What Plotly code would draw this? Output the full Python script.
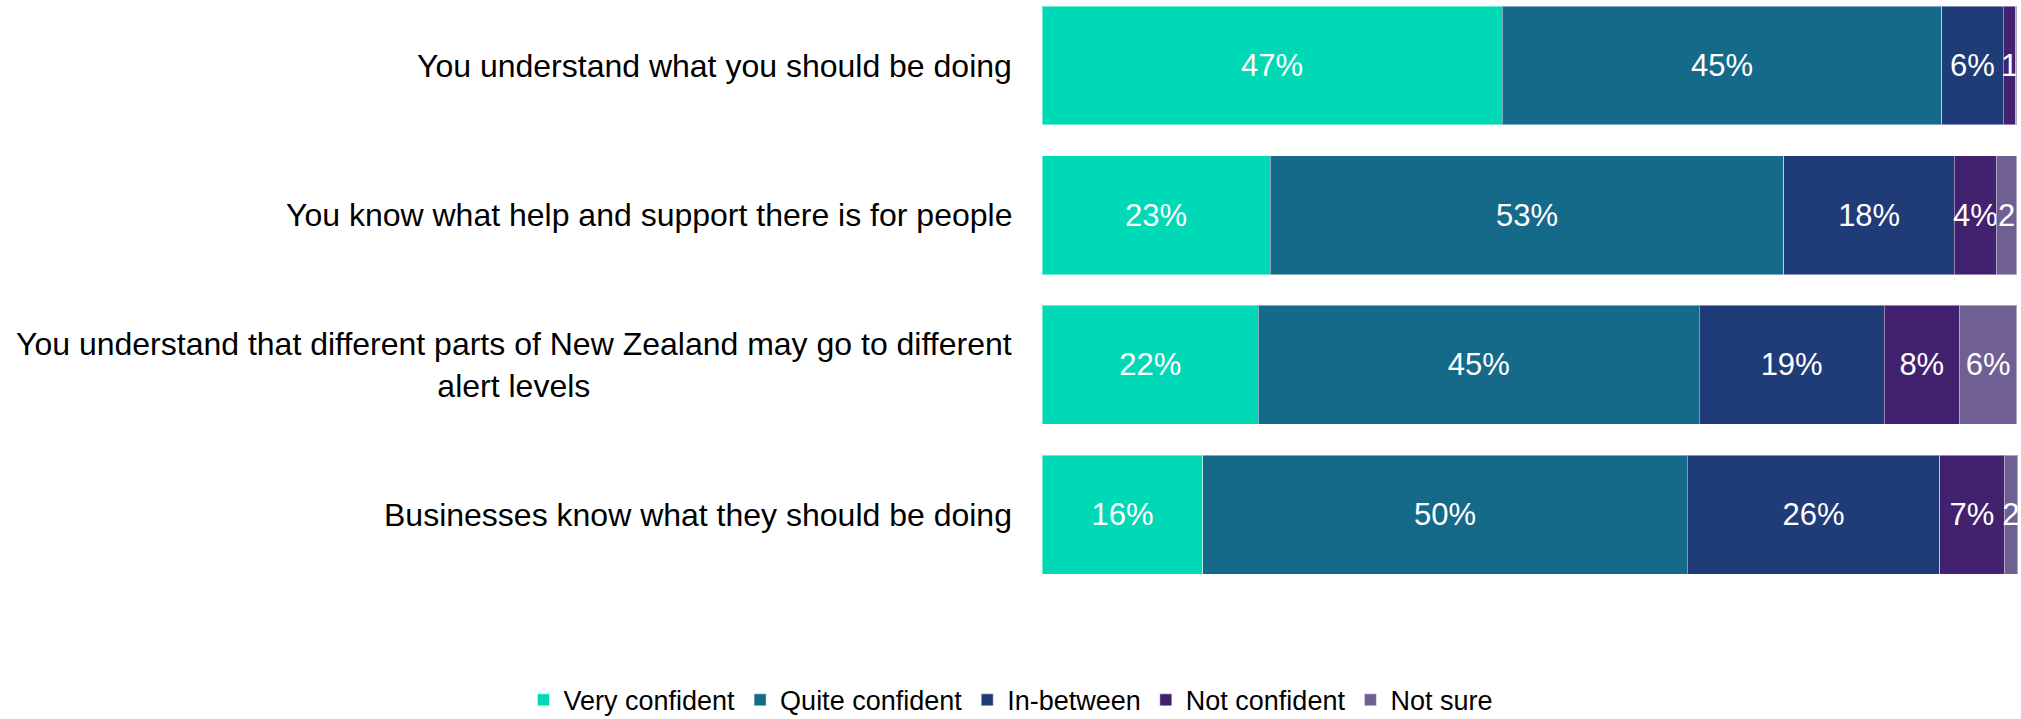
import plotly.graph_objects as go

categories = [
    "You understand what you should be doing",
    "You know what help and support there is for people",
    "You understand that different parts of New Zealand may go to different<br>alert levels",
    "Businesses know what they should be doing",
]
series_names = ["Very confident", "Quite confident", "In-between", "Not confident", "Not sure"]
very_confident = [47.2, 23.4, 22.2, 16.5]
quite_confident = [45.1, 52.7, 45.2, 49.7]
in_between = [6.3, 17.5, 19.0, 25.9]
not_confident = [1.3, 4.3, 7.7, 6.6]
not_sure = [0.1, 2.1, 5.9, 1.4]

labels_very = ["47%", "23%", "22%", "16%"]
labels_quite = ["45%", "53%", "45%", "50%"]
labels_between = ["6%", "18%", "19%", "26%"]
labels_notconf = ["1", "4%", "8%", "7%"]
labels_notsure = ["", "2", "6%", "2"]

colors = ["#00D9B5", "#156A8A", "#1F3B78", "#42226F", "#6F5F93"]

values = [very_confident, quite_confident, in_between, not_confident, not_sure]
labels = [labels_very, labels_quite, labels_between, labels_notconf, labels_notsure]

FONT = "Liberation Sans, Arial, sans-serif"

fig = go.Figure()
for name, vals, txt, col in zip(series_names, values, labels, colors):
    fig.add_trace(go.Bar(
        name=name, y=categories, x=vals, orientation="h",
        marker=dict(color=col, line=dict(color="rgba(255,255,255,0.45)", width=1)),
        text=txt, textposition="inside", insidetextanchor="middle", textangle=0,
        insidetextfont=dict(color="white", size=31, family=FONT),
        cliponaxis=False, hoverinfo="skip",
    ))

for cat in categories:
    fig.add_annotation(
        x=0, xref="paper", y=cat, yref="y", text=cat, showarrow=False,
        xanchor="right", yanchor="middle", align="center", xshift=-28,
        font=dict(size=32, color="black", family=FONT),
    )

fig.update_layout(
    barmode="stack", bargap=0.205,
    width=2021, height=719,
    margin=dict(l=1042, r=3, t=0, b=139, autoexpand=False),
    paper_bgcolor="white", plot_bgcolor="white",
    font=dict(family=FONT, color="black"),
    uniformtext=dict(minsize=31, mode="show"),
    xaxis=dict(range=[0, 100.12], visible=False, fixedrange=True),
    yaxis=dict(type="category", range=[3.4376, -0.4376], showticklabels=False, showgrid=False,
               zeroline=False, ticks="", fixedrange=True),
    legend=dict(orientation="h", x=0.5, xref="container", xanchor="center",
                y=0.026, yref="container", yanchor="middle",
                font=dict(size=27, color="black", family=FONT),
                itemwidth=30, traceorder="normal"),
    showlegend=True,
)

fig.write_html("out.html", config={"displayModeBar": False},
               post_script="document.body.style.margin='0';document.body.style.overflow='hidden';")
